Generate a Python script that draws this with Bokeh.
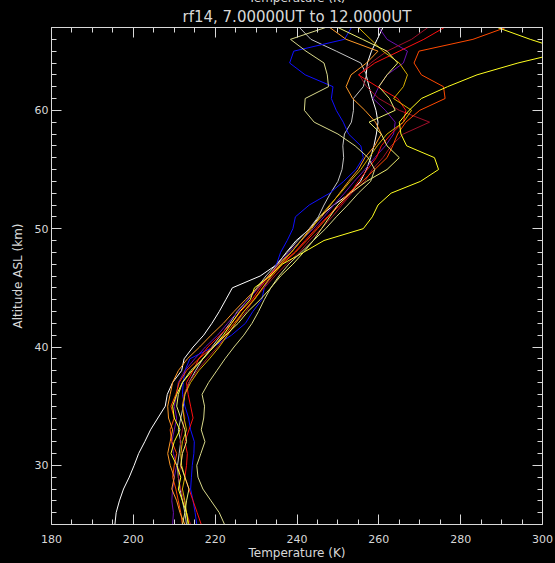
from bokeh.plotting import figure
from bokeh.models import LinearAxis, FixedTicker, Range1d, Title, CustomLabelingPolicy
from bokeh.embed import file_html
from bokeh.resources import INLINE

# ---------------- data ----------------
altitude = [25, 26, 27, 28, 29, 30, 31, 32, 33, 34, 35, 36, 37, 38, 39, 40, 41, 42, 43, 44, 45,
            46, 47, 48, 49, 50, 51, 52, 53, 54, 55, 56, 57, 58, 59, 60, 61, 62, 63, 64, 65, 66, 67]

t_white = [195.5, 195.8, 196.6, 197.6, 199.0, 200.2, 201.3, 202.8, 204.2, 206.0, 207.8, 208.3, 209.6, 211.8,
           212.4, 214.6, 217.2, 219.2, 221.0, 222.6, 224.2, 231.0, 235.2, 237.4, 239.8, 243.2, 245.5, 249.0,
           253.0, 255.5, 257.0, 258.0, 258.8, 259.4, 259.8, 259.3, 258.4, 257.6, 256.9, 257.2, 258.2, 259.6, 261.0]
t_grey = [213.0, 212.6, 212.0, 211.4, 211.0, 210.8, 211.2, 211.6, 211.0, 211.6, 212.2, 212.6, 213.6, 215.2,
          217.0, 219.2, 221.4, 223.6, 225.4, 228.0, 230.2, 232.4, 235.0, 237.6, 240.2, 243.0, 245.2, 246.6,
          248.2, 250.0, 251.0, 251.4, 251.2, 251.6, 253.3, 253.8, 253.8, 256.2, 257.0, 255.6, 249.6, 243.4, 240.6]
t_blue = [215.5, 215.1, 214.6, 214.0, 214.2, 214.4, 214.8, 214.9, 214.0, 213.5, 212.6, 212.0, 212.2, 212.6,
          213.8, 219.5, 224.0, 227.4, 229.2, 231.4, 232.0, 233.6, 235.0, 236.0, 237.6, 239.0, 239.6, 243.0,
          248.0, 251.4, 254.4, 256.2, 255.6, 252.6, 251.3, 249.6, 248.4, 248.8, 242.0, 238.2, 239.2, 251.6, 253.3]
t_khaki = [222.3, 221.0, 219.0, 217.0, 215.8, 215.5, 216.5, 217.5, 216.6, 217.2, 217.4, 216.8, 218.4, 220.4,
           222.4, 224.6, 227.0, 229.0, 230.6, 232.0, 233.6, 235.6, 238.0, 241.0, 244.0, 247.0, 249.6, 252.4,
           255.0, 258.0, 259.0, 257.4, 254.2, 250.0, 244.2, 241.8, 242.0, 247.7, 247.4, 246.6, 242.2, 238.4, 247.0]
t_yellow = [213.4, 213.0, 212.0, 211.0, 211.6, 210.6, 209.2, 210.0, 211.4, 210.0, 209.6, 210.6, 212.0, 214.4,
            217.0, 219.6, 222.0, 224.0, 226.0, 228.6, 229.6, 233.4, 236.4, 241.6, 246.6, 256.2, 258.4, 259.8,
            263.0, 270.2, 274.6, 273.6, 266.8, 265.4, 265.0, 267.4, 270.4, 276.8, 284.0, 294.0, 306.0, 297.0, 289.0]
t_orangered = [212.0, 211.6, 211.0, 210.4, 209.6, 210.0, 210.6, 209.4, 209.0, 210.0, 209.2, 210.4, 211.2, 213.0,
               216.0, 219.4, 222.4, 224.6, 227.0, 229.4, 231.6, 234.0, 236.4, 239.6, 242.4, 245.0, 247.6, 250.0,
               252.6, 256.0, 259.0, 262.0, 263.4, 264.6, 266.6, 270.0, 276.2, 275.8, 270.4, 268.6, 269.8, 283.0, 291.0]
t_orange = [212.6, 211.4, 210.6, 209.4, 210.0, 209.0, 208.4, 209.0, 209.6, 208.6, 208.4, 209.0, 209.6, 211.0,
            213.2, 216.2, 219.0, 222.0, 224.6, 227.4, 230.4, 233.0, 235.4, 238.6, 241.0, 243.2, 246.0, 248.2,
            250.4, 252.6, 255.0, 256.6, 259.0, 260.6, 259.2, 256.6, 253.6, 252.0, 253.2, 257.0, 259.8, 252.0, 248.0]
t_red = [216.6, 215.6, 214.6, 213.6, 212.6, 213.0, 213.2, 212.6, 213.6, 214.6, 214.0, 213.4, 213.0, 214.6,
         216.0, 218.2, 221.2, 224.0, 226.2, 229.0, 231.0, 233.2, 236.0, 239.4, 242.0, 244.6, 247.4, 250.6,
         253.0, 255.0, 257.2, 259.4, 260.6, 263.0, 266.0, 266.6, 264.6, 259.6, 255.0, 259.0, 265.0, 271.0, 276.0]
t_maroon = [214.0, 213.0, 212.4, 211.6, 211.0, 211.6, 212.0, 211.4, 212.0, 212.6, 212.0, 212.4, 213.6, 215.6,
            218.0, 220.6, 223.0, 225.0, 227.6, 229.4, 232.0, 234.6, 237.4, 240.6, 243.0, 246.0, 248.6, 251.0,
            253.4, 256.6, 258.4, 261.0, 263.0, 266.0, 272.4, 265.0, 260.0, 257.0, 255.2, 258.0, 262.0, 268.0, 272.0]
t_purple = [209.6, 209.8, 209.4, 209.6, 210.0, 210.6, 209.8, 209.4, 210.0, 210.6, 210.0, 210.6, 211.0, 212.6,
            215.0, 217.6, 220.6, 223.0, 225.6, 228.0, 230.6, 233.0, 235.6, 238.0, 241.0, 244.0, 246.6, 249.0,
            251.6, 254.0, 256.6, 259.0, 261.6, 263.6, 264.0, 261.6, 258.6, 260.0, 262.0, 266.0, 267.0, 262.0, 260.0]
t_gold = [213.6, 213.0, 212.6, 212.0, 212.6, 211.8, 211.6, 212.0, 213.0, 212.4, 212.0, 212.6, 214.0, 216.0,
          218.6, 221.0, 223.0, 225.0, 227.0, 229.6, 231.6, 233.6, 236.0, 238.6, 241.0, 243.6, 245.6, 248.0,
          250.6, 253.0, 255.6, 257.6, 259.6, 262.0, 266.0, 268.0, 263.6, 266.0, 267.0, 265.0, 261.0, 258.0, 255.0]
t_paleyellow = [212.0, 212.6, 213.0, 213.6, 212.6, 211.6, 212.0, 213.0, 212.6, 211.6, 210.6, 211.0, 212.0, 214.0,
                217.0, 219.6, 222.6, 225.6, 228.0, 231.0, 233.6, 236.0, 239.0, 241.6, 244.0, 246.0, 248.0, 250.0,
                253.0, 257.0, 262.0, 265.0, 262.0, 260.6, 257.6, 264.0, 262.6, 260.0, 262.0, 264.6, 262.0, 256.0, 250.0]

profiles = [t_white, t_grey, t_blue, t_purple, t_maroon, t_red, t_orangered, t_orange,
            t_gold, t_yellow, t_paleyellow, t_khaki]
profile_colors = ["#ffffff", "#c4c4c4", "#1010ff", "#6a10b0", "#a0102a", "#ff1010", "#ff4a00", "#ff9a28",
                  "#d8b000", "#ffff20", "#ecec70", "#d8d88a"]

x_major = [180, 200, 220, 240, 260, 280, 300]
x_minor = [185, 190, 195, 205, 210, 215, 225, 230, 235, 245, 250, 255, 265, 270, 275, 285, 290, 295]
y_major = [30, 40, 50, 60]
y_minor = [25, 26, 27, 28, 29, 31, 32, 33, 34, 35, 36, 37, 38, 39, 41, 42, 43, 44, 45, 46, 47, 48, 49,
           51, 52, 53, 54, 55, 56, 57, 58, 59, 61, 62, 63, 64, 65, 66, 67]

title_text = "rf14, 7.00000UT to 12.0000UT"
x_title = "Temperature (K)"
y_title = "Altitude ASL (km)"

# ---------------- figure ----------------
FG = "#d8d8d8"
FONT = "DejaVu Sans"
TOP_HIDDEN = 20      # px of the canvas scrolled above the window (reference clips its top text)
FRAME_TOP = 27
FRAME_H = 497
BOTTOM_BORDER = 39

p = figure(width=555, height=TOP_HIDDEN + FRAME_TOP + FRAME_H + BOTTOM_BORDER,
           x_range=Range1d(180, 300), y_range=Range1d(25, 67),
           output_backend="svg", toolbar_location=None, title=None,
           x_axis_location=None, y_axis_location=None,
           min_border_left=51, min_border_right=13,
           min_border_top=TOP_HIDDEN + FRAME_TOP, min_border_bottom=BOTTOM_BORDER,
           background_fill_color="#000000", border_fill_color="#000000")
p.outline_line_color = None
p.xgrid.visible = False
p.ygrid.visible = False

for temps, col in zip(profiles, profile_colors):
    p.line(temps, altitude, line_color=col, line_width=1)

no_labels = CustomLabelingPolicy(code="for (const i of Array.from(indices)) { indices.unset(i) }\nreturn indices")


def style_axis(ax, show_labels):
    ax.axis_line_color = FG
    ax.major_tick_line_color = FG
    ax.minor_tick_line_color = FG
    ax.major_tick_in = 10
    ax.major_tick_out = 0
    ax.minor_tick_in = 5
    ax.minor_tick_out = 0
    ax.major_label_text_color = FG
    ax.major_label_text_font = FONT
    ax.major_label_text_font_size = "11px"
    ax.axis_label_text_color = FG
    ax.axis_label_text_font = FONT
    ax.axis_label_text_font_style = "normal"
    ax.axis_label_text_font_size = "12px"
    if not show_labels:
        ax.major_label_policy = no_labels
        ax.major_label_text_color = None
        ax.major_label_standoff = 0


xt = FixedTicker(ticks=x_major, minor_ticks=x_minor)
yt = FixedTicker(ticks=y_major, minor_ticks=y_minor)

ax_b = LinearAxis(ticker=xt, axis_label=x_title)
style_axis(ax_b, True)
ax_b.major_label_standoff = 10
ax_b.axis_label_standoff = 0
p.add_layout(ax_b, "below")

ax_t = LinearAxis(ticker=xt)
style_axis(ax_t, False)
p.add_layout(ax_t, "above")

ax_l = LinearAxis(ticker=yt, axis_label=y_title)
style_axis(ax_l, True)
ax_l.major_label_standoff = 3
ax_l.axis_label_standoff = 7
p.add_layout(ax_l, "left")

ax_r = LinearAxis(ticker=yt)
style_axis(ax_r, False)
p.add_layout(ax_r, "right")

# titles: the run title right above the frame, the upper axis title above it (cut off by the window)
p.add_layout(Title(text=title_text, align="center", text_color=FG, text_font=FONT,
                   text_font_size="15px", text_font_style="normal", standoff=3), "above")
p.add_layout(Title(text=x_title, align="center", text_color=FG, text_font=FONT,
                   text_font_size="12px", text_font_style="normal", standoff=0), "above")

html = file_html(p, INLINE, title="rf14 temperature profiles")
html = html.replace("</head>",
                    "<style>html{margin:0 !important;padding:0 !important;background:#000000;overflow:hidden}"
                    "body{margin:-%dpx 0 0 0 !important;padding:0 !important;background:#000000;"
                    "height:auto !important;overflow:visible !important}</style></head>" % TOP_HIDDEN, 1)
open("out.html", "w").write(html)
